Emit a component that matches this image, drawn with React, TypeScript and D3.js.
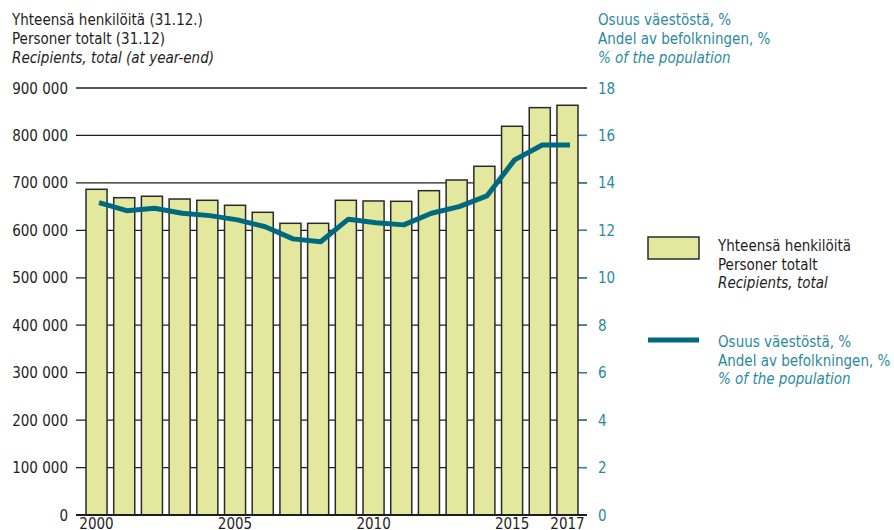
import React from "react";
import * as d3 from "d3";

const years = [2000,2001,2002,2003,2004,2005,2006,2007,2008,2009,2010,2011,2012,2013,2014,2015,2016,2017];
const recipients = [686500,668800,671800,666000,663300,652800,638000,614800,614800,663300,661900,661200,683600,706100,735000,819300,858600,863600];
const sharePct = [13.17,12.83,12.93,12.72,12.62,12.44,12.15,11.64,11.52,12.47,12.32,12.23,12.72,13.0,13.45,14.97,15.6,15.6];
const leftTicks = [0,100000,200000,300000,400000,500000,600000,700000,800000,900000];
const rightTicks = [0,2,4,6,8,10,12,14,16,18];
const yearLabels = [2000,2005,2010,2015,2017];
const leftTitle = ["Yhteensä henkilöitä (31.12.)", "Personer totalt (31.12)", "Recipients, total (at year-end)"];
const rightTitle = ["Osuus väestöstä, %", "Andel av befolkningen, %", "% of the population"];
const legendBar = ["Yhteensä henkilöitä", "Personer totalt", "Recipients, total"];
const legendLine = ["Osuus väestöstä, %", "Andel av befolkningen, %", "% of the population"];

const FONT = "'DejaVu Sans Condensed', 'Liberation Sans Narrow', sans-serif";
const TEAL_TEXT = "#2a8aa2";
const TEAL_LINE = "#00697f";
const BAR_FILL = "#e4e89e";
const DARK = "#1e1e1e";

export default function App() {
  const W = 894, H = 530;
  const axL = 76, axR = 587;
  const x = d3.scaleBand<number>().domain(years).range([86, 578]).paddingInner(0.24).paddingOuter(0);
  const yL = d3.scaleLinear().domain([0, 900000]).range([515, 88]);
  const yR = d3.scaleLinear().domain([0, 18]).range([515, 88]);
  const fmt = (v: number) => d3.format(",")(v).replace(/,/g, " ");
  const line = d3.line<number>()
    .x((_, i) => (x(years[i]) as number) + x.bandwidth() / 2 + 2.5)
    .y((d) => yR(d))
    .curve(d3.curveLinear);

  const fs = 15;
  return (
    <svg width={W} height={H} style={{ position: "absolute", left: 0, top: 0 }} fontFamily={FONT}>
      <rect width={W} height={H} fill="#fff" />
      {leftTitle.map((t, i) => (
        <text key={"lt" + i} x={12} y={25 + i * 19} fontSize={fs} fill={DARK} fontStyle={i === 2 ? "italic" : "normal"}>{t}</text>
      ))}
      {rightTitle.map((t, i) => (
        <text key={"rt" + i} x={598} y={25 + i * 19} fontSize={fs} fill={TEAL_TEXT} fontStyle={i === 2 ? "italic" : "normal"}>{t}</text>
      ))}
      {leftTicks.filter(v => v > 0).map((v) => (
        <line key={"g" + v} x1={axL} x2={axR} y1={yL(v)} y2={yL(v)} stroke={DARK} strokeWidth={1.3} />
      ))}
      {leftTicks.map((v) => (
        <text key={"ll" + v} x={68} y={yL(v) + 5.5} fontSize={fs} fill={DARK} textAnchor="end">{fmt(v)}</text>
      ))}
      {years.map((yr, i) => (
        <rect key={"b" + yr} x={x(yr)} y={yL(recipients[i])} width={x.bandwidth()} height={yL(0) - yL(recipients[i])}
          fill={BAR_FILL} stroke="#2a2a2a" strokeWidth={1.5} />
      ))}
      {rightTicks.filter(v => v > 0 && v < 18).map((v) => (
        <line key={"rtk" + v} x1={579} x2={axR} y1={yR(v)} y2={yR(v)} stroke={TEAL_TEXT} strokeWidth={1.3} />
      ))}
      <line x1={axL} x2={axR} y1={yL(0)} y2={yL(0)} stroke={DARK} strokeWidth={2} />
      {rightTicks.map((v) => (
        <text key={"rl" + v} x={598} y={yR(v) + 5.5} fontSize={fs} fill={TEAL_TEXT}>{v}</text>
      ))}
      <path d={line(sharePct) || ""} fill="none" stroke={TEAL_LINE} strokeWidth={5} strokeLinejoin="round" />
      {yearLabels.map((yr) => (
        <text key={"yl" + yr} x={(x(yr) as number) + x.bandwidth() / 2} y={529} fontSize={fs} fill={DARK} textAnchor="middle">{yr}</text>
      ))}
      <rect x={648} y={237} width={51} height={22} fill={BAR_FILL} stroke="#2a2a2a" strokeWidth={1.5} />
      {legendBar.map((t, i) => (
        <text key={"lb" + i} x={718} y={251 + i * 18.5} fontSize={fs} fill={DARK} fontStyle={i === 2 ? "italic" : "normal"}>{t}</text>
      ))}
      <line x1={648} x2={699} y1={340} y2={340} stroke={TEAL_LINE} strokeWidth={5} />
      {legendLine.map((t, i) => (
        <text key={"ll2" + i} x={718} y={347 + i * 18.5} fontSize={fs} fill={TEAL_TEXT} fontStyle={i === 2 ? "italic" : "normal"}>{t}</text>
      ))}
    </svg>
  );
}
